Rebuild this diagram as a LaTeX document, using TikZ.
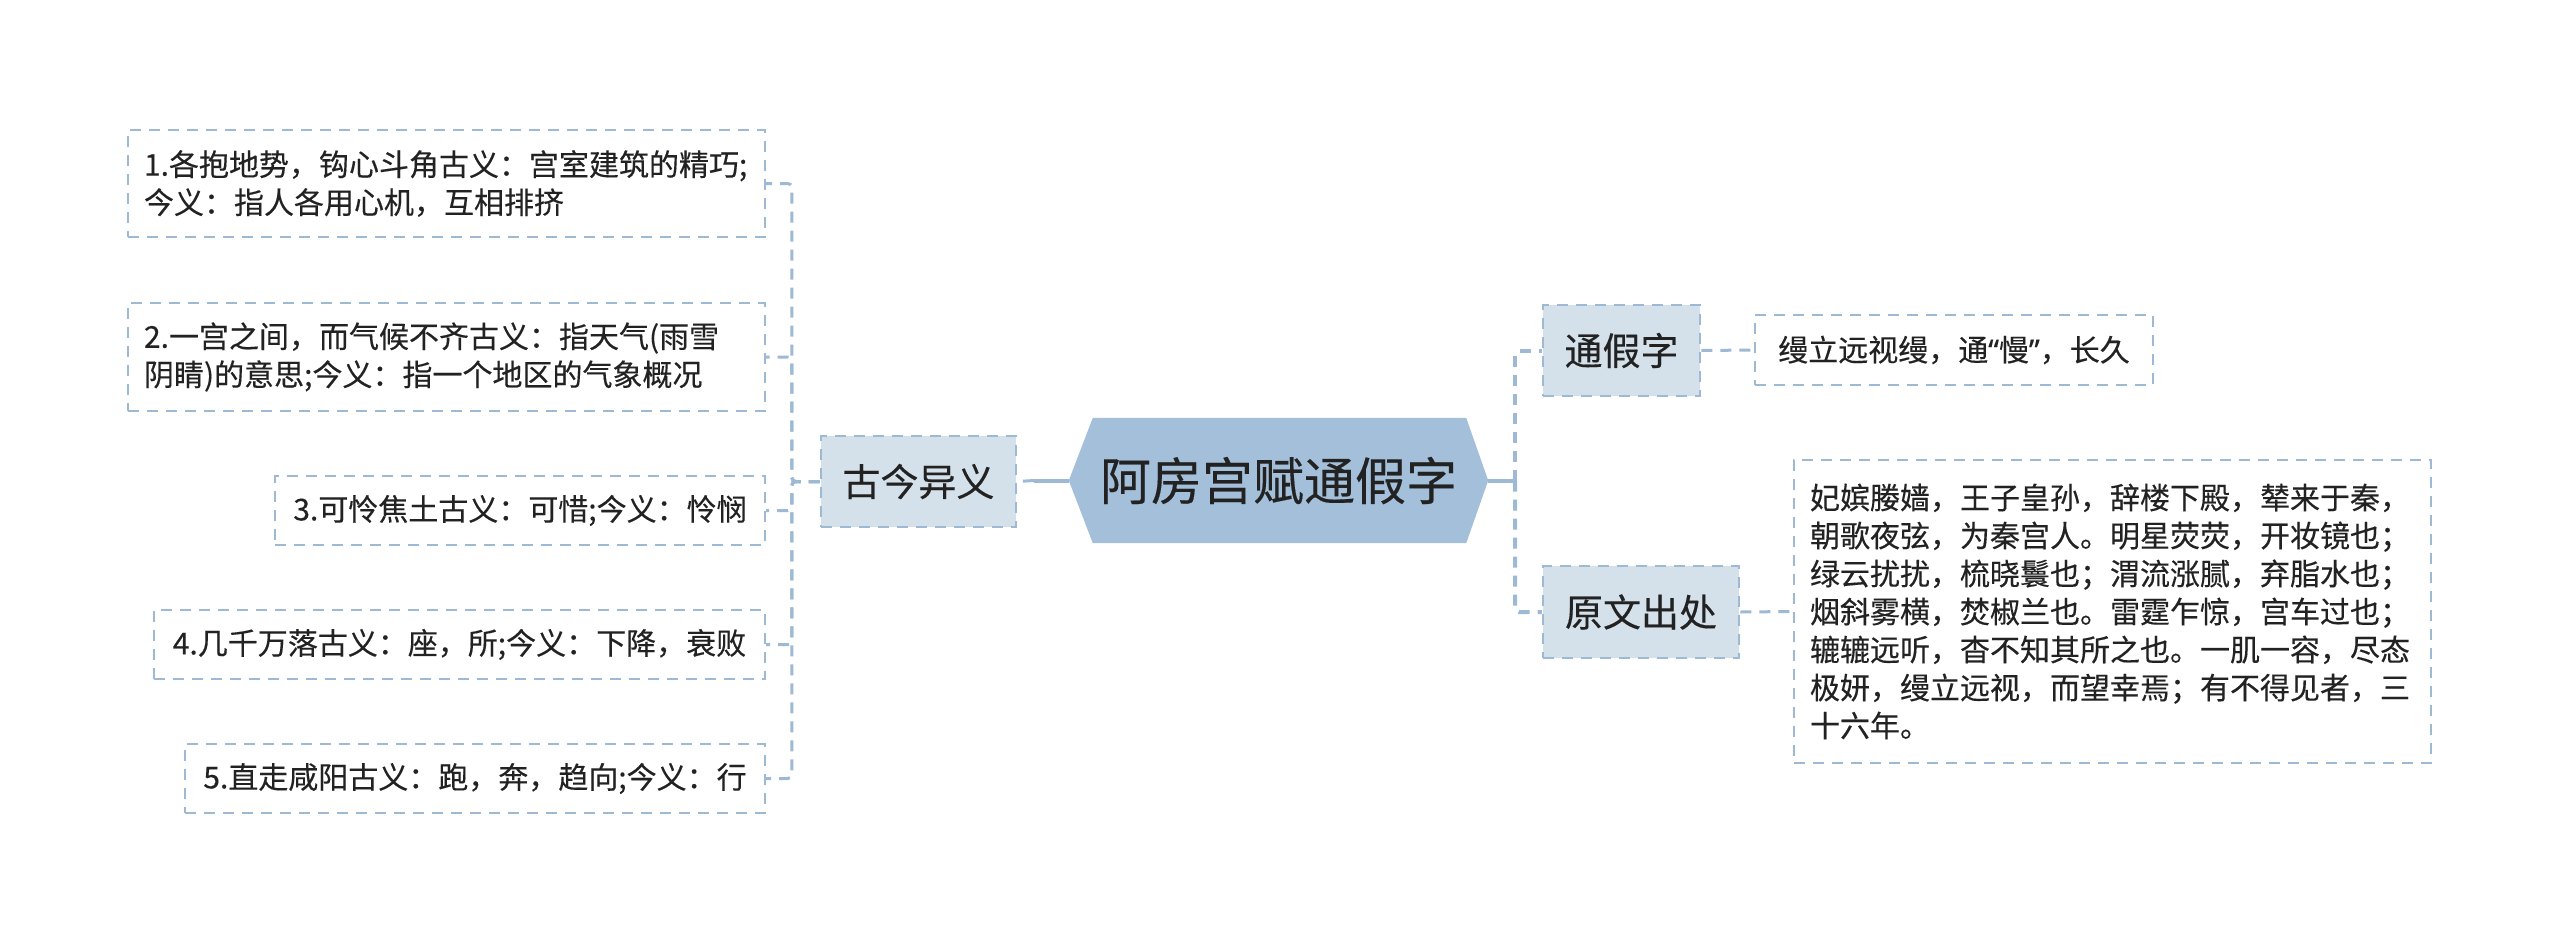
\documentclass[tikz,border=0pt]{standalone}
\usepackage{fontspec}
\setmainfont{Noto Sans CJK SC}[FakeBold=0.3]
\newfontfamily\latinq{Noto Sans}[FakeBold=0.3]
\usetikzlibrary{backgrounds}
\definecolor{bordc}{HTML}{9DB9D3}
\definecolor{subfill}{HTML}{D4E0EA}
\definecolor{mainfill}{HTML}{A3BFDA}
\definecolor{txt}{HTML}{222222}
\tikzset{
 leafbox/.style={draw=bordc, line width=2pt, dash pattern=on 11pt off 8pt, fill=white, text=txt, font=\fontsize{30}{38}\selectfont, align=left, inner xsep=16pt, inner ysep=0pt},
 subbox/.style={draw=bordc, line width=2.5pt, dash pattern=on 11pt off 8pt, fill=subfill, text=txt, font=\fontsize{38}{46}\selectfont, inner sep=0pt},
 mainbox/.style={text=txt, font=\fontsize{51}{60}\selectfont, inner sep=0pt},
 conn/.style={draw=bordc, line width=3pt, dash pattern=on 11pt off 8pt, rounded corners=4pt},
 thickconn/.style={conn, line width=4pt},
 solidconn/.style={draw=bordc, line width=4pt},
}
\begin{document}
\begin{tikzpicture}[x=1pt,y=-1pt]
\useasboundingbox (0,0) rectangle (2560,943);

% central topic
\node[mainbox, minimum width=419pt, minimum height=125pt] (hex) at (1278.5,480.5) {阿房宫赋通假字};
\begin{scope}[on background layer]
\fill[white] (0,0) rectangle (2560,943);
\fill[mainfill] (hex.west) -- ([xshift=24pt]hex.north west) -- ([xshift=-22pt]hex.north east) -- (hex.east) -- ([xshift=-22pt]hex.south east) -- ([xshift=24pt]hex.south west) -- cycle;
\end{scope}

% subtopics
\node[subbox, minimum width=195pt, minimum height=91pt] (gj) at (918.5,481.5) {古今异义};
\node[subbox, minimum width=157pt, minimum height=91pt] (tj) at (1621.5,350.5) {通假字};
\node[subbox, minimum width=196pt, minimum height=92pt] (yw) at (1641,612) {原文出处};

% left leaves
\node[leafbox, anchor=east, text width=605pt, minimum height=107pt] (L1) at (766,183.5) {1.各抱地势，钩心斗角古义：宫室建筑的精巧;\\今义：指人各用心机，互相排挤};
\node[leafbox, anchor=east, text width=605pt, minimum height=108pt] (L2) at (766,357) {2.一宫之间，而气候不齐古义：指天气(雨雪\\阴睛)的意思;今义：指一个地区的气象概况};
\node[leafbox, anchor=east, minimum width=490pt, minimum height=69pt] (L3) at (766,510.5) {3.可怜焦土古义：可惜;今义：怜悯};
\node[leafbox, anchor=east, minimum width=611pt, minimum height=69pt] (L4) at (766,644.5) {4.几千万落古义：座，所;今义：下降，衰败};
\node[leafbox, anchor=east, minimum width=580pt, minimum height=69pt] (L5) at (766,778.5) {5.直走咸阳古义：跑，奔，趋向;今义：行};

% right leaves
\node[leafbox, minimum width=398pt, minimum height=70pt] (RT) at (1954,350) {缦立远视缦，通{\latinq “}慢{\latinq ”}，长久};
\node[leafbox, text width=605pt, minimum height=303pt] (RY) at (2112.5,611.5) {妃嫔媵嫱，王子皇孙，辞楼下殿，辇来于秦，\\朝歌夜弦，为秦宫人。明星荧荧，开妆镜也；\\绿云扰扰，梳晓鬟也；渭流涨腻，弃脂水也；\\烟斜雾横，焚椒兰也。雷霆乍惊，宫车过也；\\辘辘远听，杳不知其所之也。一肌一容，尽态\\极妍，缦立远视，而望幸焉；有不得见者，三\\十六年。};

% connectors: center to subtopics
\draw[solidconn] (hex.west) -- ++(-35,0) coordinate (hl);
\draw[conn] (hl) -- (gj.east);
\draw[solidconn] (hex.east) -- ++(27,0) coordinate (hr);
\draw[thickconn] (hr) |- (tj.west);
\draw[thickconn] (hr) |- (yw.west);

% subtopic to leaves
\foreach \n in {L1,L2,L3,L4,L5}{
  \draw[conn] (gj.west) -- ++(-28,0) |- (\n.east);
}
\draw[conn] (tj.east) -- (RT.west);
\draw[conn] (yw.east) -- (RY.west);
\end{tikzpicture}
\end{document}
